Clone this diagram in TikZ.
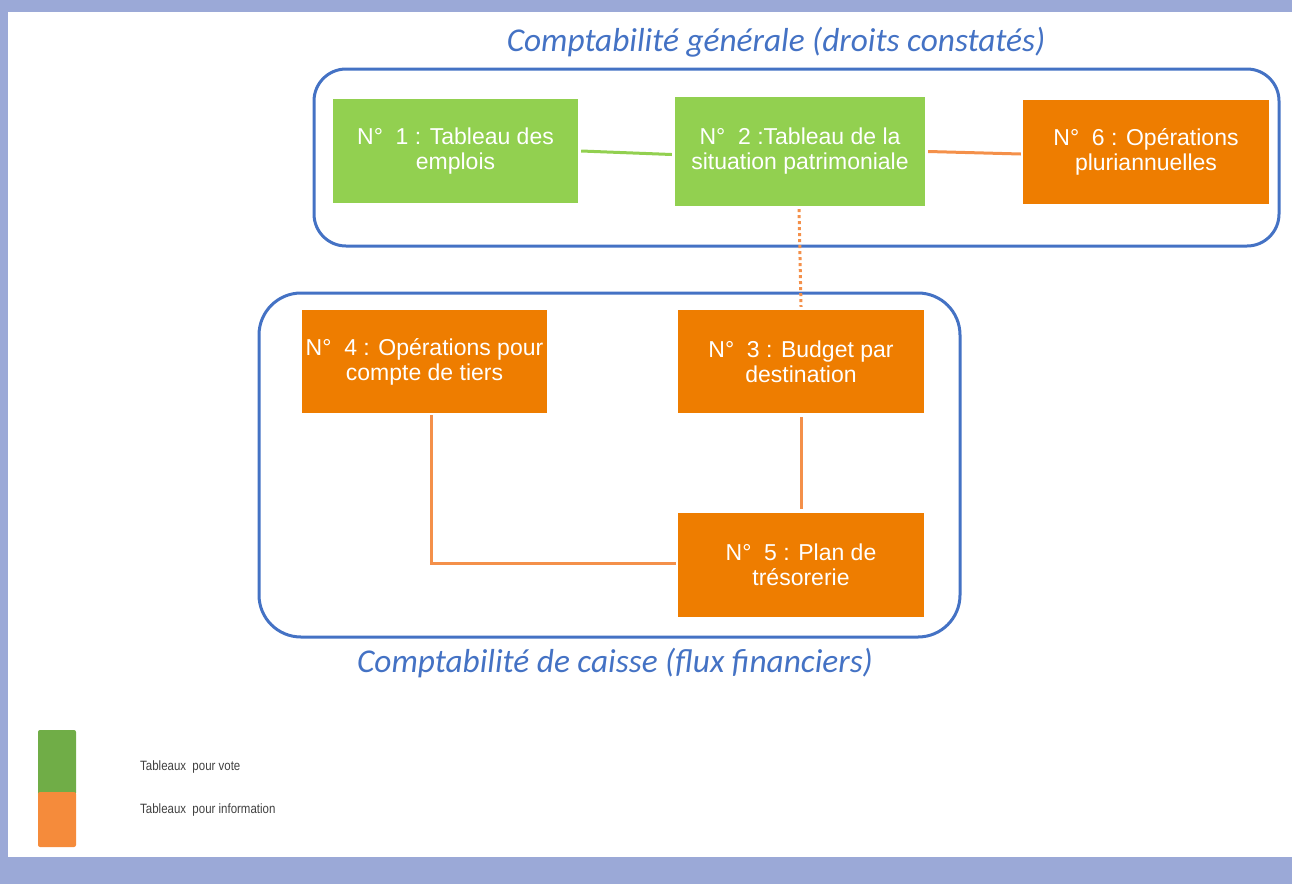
\documentclass[tikz,border=0pt]{standalone}
\usepackage{fontspec}
\setmainfont{Liberation Sans}
\newfontfamily\titlefont{Carlito}
\newfontfamily\legendfont[FakeStretch=0.85]{Liberation Sans}
\usetikzlibrary{positioning}
\definecolor{frameband}{HTML}{9BA9D7}
\definecolor{boxblue}{HTML}{4472C4}
\definecolor{vgreen}{HTML}{92D050}
\definecolor{iorange}{HTML}{EE7D00}
\definecolor{lorange}{HTML}{F4904A}
\definecolor{lgreen}{HTML}{70AD47}
\definecolor{legorange}{HTML}{F58B3B}
\begin{document}
\begin{tikzpicture}[x=1pt,y=-1pt,
  tbl/.style={inner sep=0pt,align=center,text=white,font=\fontsize{23}{25}\selectfont},
  votebox/.style={tbl,fill=vgreen},
  infobox/.style={tbl,fill=iorange},
  group/.style={draw=boxblue,line width=3pt},
  title/.style={text=boxblue,font=\titlefont\itshape\fontsize{33.3}{36}\selectfont,inner sep=0pt},
  glink/.style={draw=vgreen,line width=3pt},
  olink/.style={draw=lorange,line width=3pt},
  legtext/.style={text=black!75,font=\legendfont\fontsize{13.5}{15}\selectfont,anchor=west,inner sep=0pt}]
\useasboundingbox (0,0) rectangle (1292,884);
% outer frame bands
\fill[frameband] (0,0) rectangle (1292,12);
\fill[frameband] (0,0) rectangle (8,884);
\fill[frameband] (0,857) rectangle (1292,884);
% groups
\draw[group,rounded corners=32pt] (314,69) rectangle (1279,246);
\draw[group,rounded corners=42pt] (259,293) rectangle (960,637);
\node[title] (t1) at (776,42) {Comptabilité générale (droits constatés)};
\node[title] (t2) at (615,663) {Comptabilité de caisse (flux financiers)};
% tables
\node[votebox,minimum width=245pt,minimum height=104pt] (n1) at (455.5,151) {N°\ \ 1 : Tableau des\\emplois};
\node[votebox,minimum width=250pt,minimum height=109pt] (n2) at (800,151.5) {N°\ \ 2 :Tableau de la\\situation patrimoniale};
\node[infobox,minimum width=246pt,minimum height=104pt] (n6) at (1146,152) {N°\ \ 6 : Opérations\\pluriannuelles};
\node[infobox,minimum width=245pt,minimum height=103pt] (n4) at (424.5,361.5) {N°\ \ 4 : Opérations pour\\compte de tiers};
\node[infobox,minimum width=246pt,minimum height=103pt] (n3) at (801,361.5) {N°\ \ 3 : Budget par\\destination};
\node[infobox,minimum width=246pt,minimum height=104pt] (n5) at (801,565) {N°\ \ 5 : Plan de\\trésorerie};
% connectors
\draw[glink] ([xshift=3pt]n1.east) -- ([xshift=-3pt,yshift=-3pt]n2.west);
\draw[olink] ([xshift=3pt]n2.east) -- ([xshift=-2pt,yshift=-2pt]n6.west);
\draw[olink,dash pattern=on 3pt off 3pt] ([xshift=-1pt,yshift=-3pt]n2.south) -- ([yshift=3pt]n3.north);
\draw[olink] ([yshift=-4pt]n3.south) -- ([yshift=4pt]n5.north);
\coordinate (elbow) at (431,563);
\draw[olink] ([yshift=-2pt]n4.south -| elbow) -- (elbow) -- ([xshift=-2pt]n5.west |- elbow);
% legend
\fill[lgreen,rounded corners=2pt] (38,730) rectangle (76,795);
\fill[legorange,rounded corners=2pt] (38,792) rectangle (76,847);
\fill[lgreen] (38,780) rectangle (76,792);
\node[legtext] (l1) at (140,767) {Tableaux\ \ pour vote};
\node[legtext] (l2) at (140,810) {Tableaux\ \ pour information};
\end{tikzpicture}
\end{document}
